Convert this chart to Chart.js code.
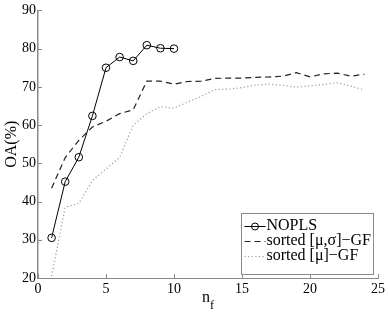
<!DOCTYPE html>
<html>
<head>
<meta charset="utf-8">
<script src="https://cdn.jsdelivr.net/npm/chart.js@4"></script>
<style>
  html, body { margin: 0; padding: 0; background: #fff; }
  #wrap { width: 388px; height: 315px; }
</style>
</head>
<body>
<div id="wrap"><canvas id="chart" width="388" height="315"></canvas></div>
<script>
// data
const noplsX = [1, 2, 3, 4, 5, 6, 7, 8, 9, 10];
const noplsY = [30.5, 45.2, 51.6, 62.4, 75.0, 77.8, 76.8, 80.9, 80.1, 80.0];

const gfX = [1, 2, 3, 4, 5, 6, 7, 8, 9, 10, 11, 12, 13, 14, 15, 16, 17, 18, 19, 20, 21, 22, 23, 24];
const muSigmaY = [43.5, 51.5, 56.0, 59.5, 61.0, 63.0, 64.0, 71.5, 71.5, 70.7, 71.4, 71.5, 72.2, 72.3, 72.3, 72.5, 72.6, 72.8, 73.7, 72.6, 73.4, 73.6, 72.8, 73.3];
const muY = [20.5, 38.5, 39.5, 45.5, 48.5, 51.5, 60.0, 63.0, 64.8, 64.4, 66.0, 67.5, 69.3, 69.4, 69.8, 70.5, 70.7, 70.4, 69.9, 70.3, 70.6, 71.1, 70.2, 69.2];

const xTicks = [0, 5, 10, 15, 20, 25];
const yTicks = [20, 30, 40, 50, 60, 70, 80, 90];
const seriesNames = ['NOPLS', 'sorted [\u03bc,\u03c3]\u2212GF', 'sorted [\u03bc]\u2212GF'];

const FONT = '"Liberation Serif", "Times New Roman", serif';
const AXIS_COLOR = '#8a8a8a';

const toPts = (xs, ys) => xs.map((x, i) => ({ x: x, y: ys[i] }));

// inward ticks, axis labels and the legend box
const decorations = {
  id: 'decorations',
  afterDraw(chart) {
    const ctx = chart.ctx;
    const area = chart.chartArea;
    const xs = chart.scales.x;
    const ys = chart.scales.y;
    ctx.save();
    ctx.strokeStyle = AXIS_COLOR;
    ctx.lineWidth = 1;
    ctx.beginPath();
    xTicks.forEach(v => {
      const px = Math.round(xs.getPixelForValue(v)) + 0.5;
      ctx.moveTo(px, area.bottom);
      ctx.lineTo(px, area.bottom - 4);
    });
    yTicks.forEach(v => {
      const py = Math.round(ys.getPixelForValue(v)) + 0.5;
      ctx.moveTo(area.left, py);
      ctx.lineTo(area.left + 4, py);
    });
    ctx.stroke();

    // y axis title
    ctx.fillStyle = '#000';
    ctx.font = '16px ' + FONT;
    ctx.textAlign = 'center';
    ctx.textBaseline = 'middle';
    ctx.save();
    ctx.translate(12, (area.top + area.bottom) / 2);
    ctx.rotate(-Math.PI / 2);
    ctx.fillText('OA(%)', 0, 0);
    ctx.restore();

    // x axis title n_f
    const cx = (area.left + area.right) / 2;
    ctx.textAlign = 'left';
    ctx.textBaseline = 'alphabetic';
    ctx.font = '16px ' + FONT;
    ctx.fillText('n', cx - 6, 302);
    ctx.font = '12px ' + FONT;
    ctx.fillText('f', cx + 2, 309);

    // legend
    const bx = 241.5, by = 213.5, bw = 132, bh = 61;
    ctx.fillStyle = '#fff';
    ctx.fillRect(bx, by, bw, bh);
    ctx.strokeStyle = AXIS_COLOR;
    ctx.strokeRect(bx, by, bw, bh);
    const rows = [226, 241, 256];
    chart.data.datasets.forEach((ds, i) => {
      const y = rows[i];
      ctx.strokeStyle = ds.borderColor;
      ctx.lineWidth = 1;
      ctx.setLineDash(ds.borderDash || []);
      ctx.beginPath();
      ctx.moveTo(bx + 3, y + 0.5);
      ctx.lineTo(bx + 24, y + 0.5);
      ctx.stroke();
      ctx.setLineDash([]);
      if (ds.pointRadius > 0) {
        ctx.beginPath();
        ctx.arc(bx + 13.5, y + 0.5, 3.5, 0, Math.PI * 2);
        ctx.stroke();
      }
      ctx.fillStyle = '#000';
      ctx.font = '16px ' + FONT;
      ctx.textBaseline = 'middle';
      ctx.fillText(ds.label, bx + 25, y);
    });
    ctx.restore();
  }
};

new Chart(document.getElementById('chart'), {
  type: 'scatter',
  data: {
    datasets: [
      {
        label: seriesNames[0],
        data: toPts(noplsX, noplsY),
        showLine: true,
        borderColor: '#000',
        borderWidth: 1,
        pointRadius: 3.8,
        pointBorderWidth: 1,
        pointBorderColor: '#000',
        pointBackgroundColor: 'rgba(0,0,0,0)'
      },
      {
        label: seriesNames[1],
        data: toPts(gfX, muSigmaY),
        showLine: true,
        borderColor: '#222',
        borderWidth: 1.2,
        borderDash: [6, 4],
        pointRadius: 0
      },
      {
        label: seriesNames[2],
        data: toPts(gfX, muY),
        showLine: true,
        borderColor: '#9a9a9a',
        borderWidth: 1.2,
        borderDash: [1.2, 2.4],
        pointRadius: 0
      }
    ]
  },
  options: {
    responsive: false,
    animation: false,
    layout: { padding: { top: 10, right: 10, left: 0, bottom: 0 } },
    plugins: {
      legend: { display: false },
      tooltip: { enabled: false }
    },
    scales: {
      x: {
        type: 'linear',
        min: 0,
        max: 25,
        afterBuildTicks: s => { s.ticks = xTicks.map(v => ({ value: v })); },
        afterFit: s => { s.height = 37; },
        grid: { drawOnChartArea: false, drawTicks: false, color: AXIS_COLOR },
        border: { color: AXIS_COLOR, width: 1 },
        ticks: { color: '#000', padding: 3, font: { family: FONT, size: 14 } }
      },
      y: {
        type: 'linear',
        min: 20,
        max: 90,
        afterBuildTicks: s => { s.ticks = yTicks.map(v => ({ value: v })); },
        afterFit: s => { s.width = 38; },
        grid: { drawOnChartArea: false, drawTicks: false, color: AXIS_COLOR },
        border: { color: AXIS_COLOR, width: 1.5 },
        ticks: { color: '#000', padding: 2, font: { family: FONT, size: 14 } }
      }
    }
  },
  plugins: [decorations]
});
</script>
</body>
</html>
